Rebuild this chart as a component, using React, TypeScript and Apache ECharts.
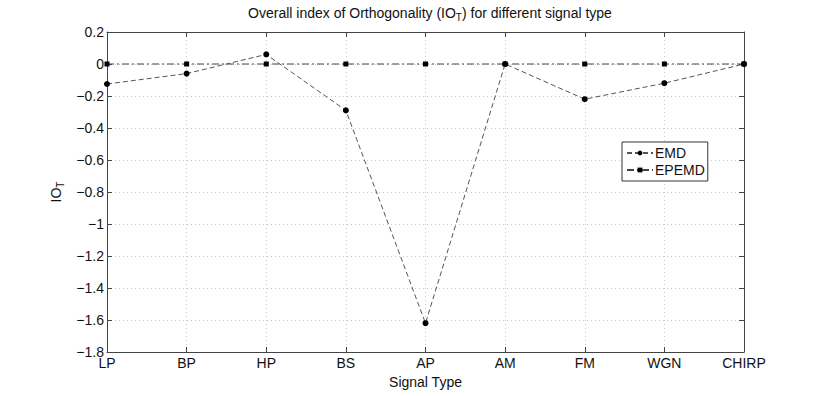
import React, { useEffect, useRef } from "react";
import * as echarts from "echarts";

const categories = ["LP", "BP", "HP", "BS", "AP", "AM", "FM", "WGN", "CHIRP"];
const emdValues = [-0.125, -0.06, 0.06, -0.29, -1.62, 0, -0.22, -0.12, 0];
const epemdValues = [0, 0, 0, 0, 0, 0, 0, 0, 0];
const yMin = -1.8;
const yMax = 0.2;
const yStep = 0.2;

const FONT = "Liberation Sans, Arial, Helvetica, sans-serif";

function fmt(v: number): string {
  const r = Math.round(v * 10) / 10;
  const s = r === 0 ? "0" : String(r);
  return s.replace("-", "\u2212");
}

export default function App() {
  const ref = useRef<HTMLDivElement>(null);
  useEffect(() => {
    if (!ref.current) return;
    const chart = echarts.init(ref.current, null, { renderer: "svg" });
    const axisLine = { show: true, onZero: false, lineStyle: { color: "#444", width: 1 } };
    const splitLine = { show: true, lineStyle: { color: "#c8c8c8", type: [1, 3] as any, width: 1 } };
    const tick = { show: true, inside: true, length: 5, lineStyle: { color: "#444" } };
    chart.setOption({
      animation: false,
      backgroundColor: "#fff",
      title: {
        text: "Overall index of Orthogonality (IO{sub|T}) for different signal type",
        left: 425,
        textAlign: "center",
        top: -2,
        textStyle: {
          fontFamily: FONT,
          fontSize: 14,
          fontWeight: "normal",
          color: "#111",
          rich: {
            sub: { fontFamily: FONT, fontSize: 10, color: "#111", padding: [9, 0, 0, 0] },
          },
        },
      },
      grid: { left: 107, right: 78, top: 32, bottom: 44, containLabel: false },
      legend: {
        orient: "vertical",
        left: 622,
        top: 142,
        padding: [4, 3, 4, 4],
        itemGap: 3,
        itemWidth: 26,
        itemHeight: 6,
        borderColor: "#333",
        borderWidth: 1,
        backgroundColor: "#fff",
        textStyle: { fontFamily: FONT, fontSize: 14, color: "#111", padding: [0, 0, 0, -3] },
        data: ["EMD", "EPEMD"],
      },
      xAxis: [
        {
          type: "category",
          data: categories,
          boundaryGap: false,
          position: "bottom",
          axisLine,
          axisTick: tick,
          axisLabel: { fontFamily: FONT, fontSize: 14, color: "#111", margin: 4, interval: 0 },
          splitLine: { ...splitLine, interval: 0 },
          name: "Signal Type",
          nameLocation: "middle",
          nameGap: 21,
          nameTextStyle: { fontFamily: FONT, fontSize: 14, color: "#111" },
        },
        {
          type: "category",
          data: categories,
          boundaryGap: false,
          position: "top",
          axisLine,
          axisTick: tick,
          axisLabel: { show: false },
          splitLine: { show: false },
        },
      ],
      yAxis: [
        {
          type: "value",
          min: yMin,
          max: yMax,
          interval: yStep,
          position: "left",
          axisLine,
          axisTick: tick,
          axisLabel: { fontFamily: FONT, fontSize: 14, color: "#111", margin: 3, formatter: (v: number) => fmt(v) },
          splitLine,
          name: "IO{sub|T}",
          nameLocation: "middle",
          nameGap: 42,
          nameRotate: 90,
          nameTextStyle: {
            fontFamily: FONT,
            fontSize: 14,
            color: "#111",
            rich: { sub: { fontFamily: FONT, fontSize: 10, color: "#111", padding: [9, 0, 0, 0] } },
          },
        },
        {
          type: "value",
          min: yMin,
          max: yMax,
          interval: yStep,
          position: "right",
          axisLine,
          axisTick: tick,
          axisLabel: { show: false },
          splitLine: { show: false },
        },
      ],
      series: [
        {
          name: "EMD",
          type: "line",
          data: emdValues,
          symbol: "circle",
          symbolSize: 6,
          itemStyle: { color: "#000" },
          lineStyle: { color: "#555", width: 1, type: [5, 3] as any },
          z: 3,
        },
        {
          name: "EPEMD",
          type: "line",
          data: epemdValues,
          symbol: "rect",
          symbolSize: 5,
          itemStyle: { color: "#000" },
          lineStyle: { color: "#444", width: 1, type: [7, 3, 2, 3] as any },
          z: 2,
        },
      ],
    });
    return () => chart.dispose();
  }, []);
  return (
    <div
      ref={ref}
      style={{ position: "fixed", left: 0, top: 0, width: 822, height: 396, background: "#fff" }}
    />
  );
}
